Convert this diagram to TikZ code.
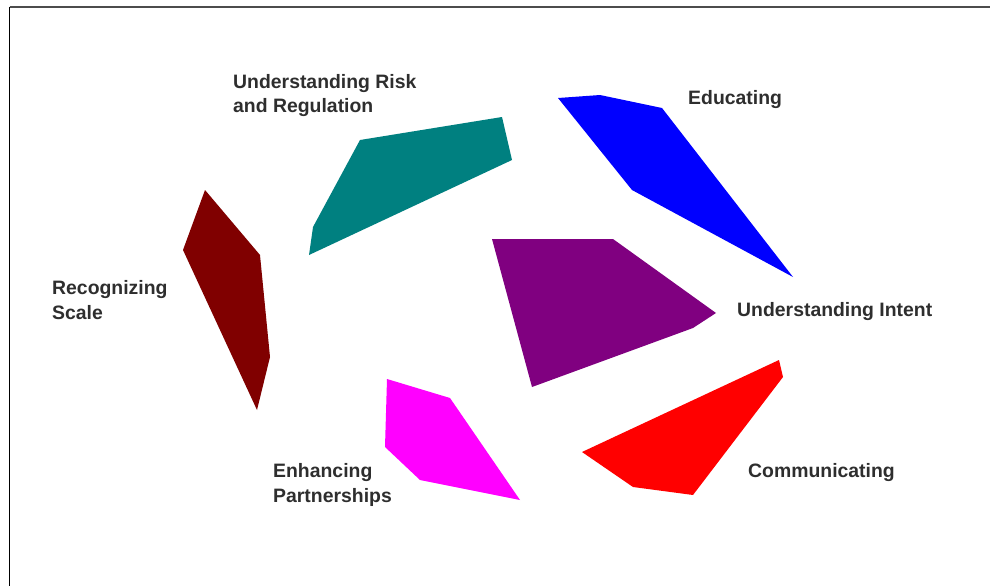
\documentclass[tikz,border=0pt]{standalone}
\usepackage{fontspec}
\setmainfont{Liberation Sans}
\definecolor{txt}{HTML}{2E2E2E}
\definecolor{cteal}{HTML}{008080}
\definecolor{cblue}{HTML}{0000FF}
\definecolor{cmaroon}{HTML}{800000}
\definecolor{cpurple}{HTML}{800080}
\definecolor{cred}{HTML}{FF0000}
\definecolor{cmagenta}{HTML}{FF00FF}
\begin{document}
\begin{tikzpicture}[x=1pt,y=-1pt,
  lbl/.style={anchor=west,align=left,inner sep=0pt,text=txt,font=\fontsize{19.4}{24.5}\selectfont\bfseries}]
\useasboundingbox (0,0) rectangle (990,586);
\fill[white] (0,0) rectangle (990,586);
\draw[line width=1.5pt,color=black!70] (9.5,7) -- (990,7);
\draw[line width=1.5pt,color=black] (9.5,7) -- (9.5,586);
% shapes
\fill[cteal] (360,140) -- (502,117) -- (512,160) -- (309,255) -- (313,227) -- cycle;
\fill[cblue] (558,98) -- (600,95) -- (662,108) -- (793,277) -- (632,190) -- cycle;
\fill[cmaroon] (205,190) -- (260,255) -- (270,357) -- (257,410) -- (183,250) -- cycle;
\fill[cpurple] (492,239) -- (613,239) -- (716,313) -- (693,328) -- (532,387) -- cycle;
\fill[cred] (779,360) -- (783,377) -- (693,495) -- (633,487) -- (582,452) -- cycle;
\fill[cmagenta] (387,379) -- (450,398) -- (520,500) -- (420,480) -- (385,447) -- cycle;
% labels
\node[lbl] (risk) at (233,95.5) {Understanding Risk\\and Regulation};
\node[lbl] (edu) at (688,99.5) {Educating};
\node[lbl] (scale) at (52,300) {Recognizing\\Scale};
\node[lbl] (intent) at (737,311.5) {Understanding Intent};
\node[lbl] (partner) at (273,485) {Enhancing\\Partnerships};
\node[lbl] (comm) at (748,472.5) {Communicating};
\end{tikzpicture}
\end{document}
